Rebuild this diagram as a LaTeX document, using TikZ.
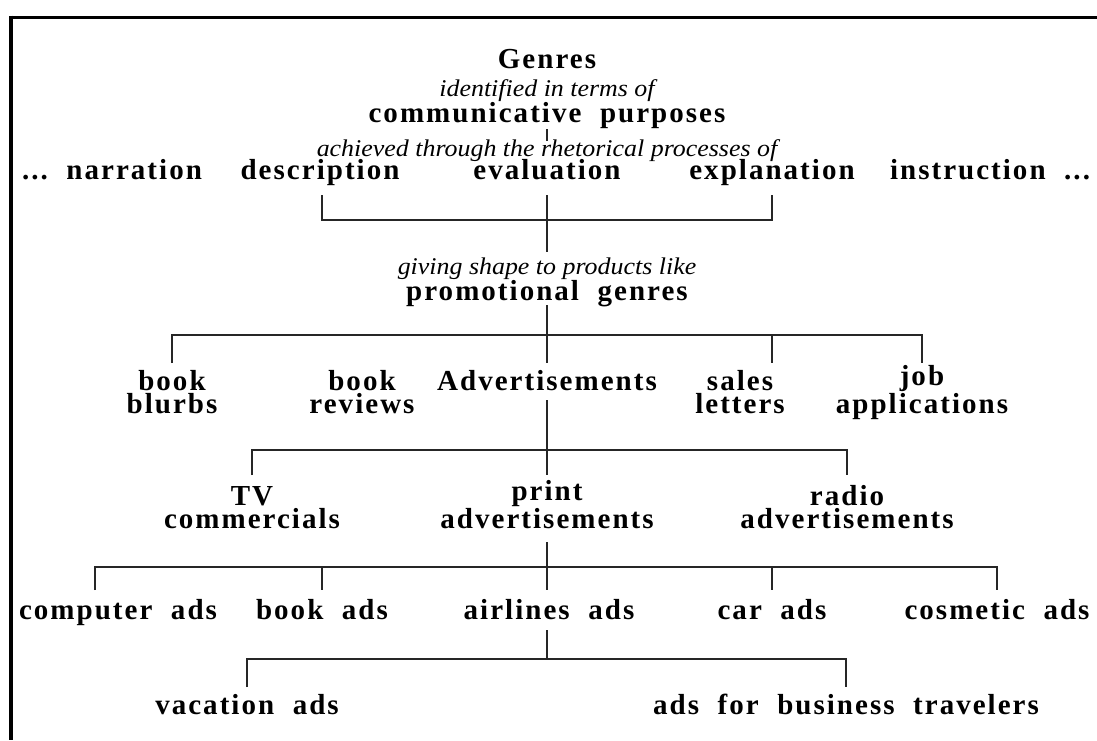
\documentclass[tikz,border=0pt]{standalone}
\usepackage{fontspec}
\setmainfont{Liberation Serif}
\newfontfamily\spacedserif[LetterSpace=7]{Liberation Serif}
\newfontfamily\glossserif[FakeStretch=1.08]{Liberation Serif}
\begin{document}
\begin{tikzpicture}[x=1pt,y=-1pt,
  term/.style={font=\spacedserif\bfseries\fontsize{29}{23}\selectfont,
               inner sep=0pt, anchor=base, align=center},
  gloss/.style={font=\glossserif\itshape\fontsize{24}{26}\selectfont, inner sep=0pt, anchor=base},
  link/.style={line width=1.4pt, draw=black!85}]
\useasboundingbox (0,0) rectangle (1097,740);
\fill[white] (0,0) rectangle (1097,740);

% frame
\draw[line width=3pt] (9,17) -- (1097,17);
\draw[line width=4.5pt] (11,15.5) -- (11,740);

% top block
\node[term]  (genres)  at (547,68)  {Genres};
\node[gloss] (ident)   at (547,96)  {identified in terms of};
\node[term]  (purpose) at (547,122) {communicative\ \ purposes};
\node[gloss] (achieve) at (547,156) {achieved through the rhetorical processes of};

% rhetorical processes
\node[term] (narr)  at (112,179) {...\ \ narration};
\node[term] (desc)  at (320,179) {description};
\node[term] (eval)  at (547,179) {evaluation};
\node[term] (expl)  at (772,179) {explanation};
\node[term] (instr) at (990,179) {instruction\ \ ...};

\node[gloss] (giving) at (547,274) {giving shape to products like};
\node[term]  (promo)  at (547,300) {promotional\ \ genres};

% promotional genres (two-line labels: base is the lower line)
\node[term] (blurbs)  at (172,413) {book\\blurbs};
\node[term] (reviews) at (362,413) {book\\reviews};
\node[term] (adv)     at (547,390) {Advertisements};
\node[term] (sales)   at (740,413) {sales\\letters};
\node[term] (job)     at (922,413) {job\\applications};

% media
\node[term] (tv)    at (252,528) {TV\\commercials};
\node[term] (print) at (547,528) {print\\advertisements};
\node[term] (radio) at (847,528) {radio\\advertisements};

% print advertisements
\node[term] (comp)     at (118,619) {computer\ \ ads};
\node[term] (bookads)  at (322,619) {book\ \ ads};
\node[term] (airlines) at (549,619) {airlines\ \ ads};
\node[term] (car)      at (772,619) {car\ \ ads};
\node[term] (cosm)     at (997,619) {cosmetic\ \ ads};

% airline ads
\node[term] (vac)  at (247,714) {vacation\ \ ads};
\node[term] (biz)  at (846,714) {ads\ \ for\ \ business\ \ travelers};

% junctions
\coordinate (barA) at (547,220);
\coordinate (barB) at (547,335);
\coordinate (barC) at (547,450);
\coordinate (barD) at (547,567);
\coordinate (barE) at (547,659);

% connectors
\draw[link] (purpose |- 0,129) -- (achieve |- 0,141);

\draw[link] (322,195) |- (barA) -| (expl |- 0,195);
\draw[link] (eval |- 0,195) -- (giving |- 0,252);

\draw[link] (promo |- 0,305) -- (adv |- 0,363);
\draw[link] (blurbs |- 0,363) |- (barB) -| (job |- 0,363);
\draw[link] (barB -| 772,0) -- (772,363);

\draw[link] (adv |- 0,400) -- (print |- 0,475);
\draw[link] (tv |- 0,475) |- (barC) -| (radio |- 0,475);

\draw[link] (print |- 0,542) -- (547,590);
\draw[link] (95,590) |- (barD) -| (cosm |- 0,590);
\draw[link] (bookads |- barD) -- (bookads |- 0,590);
\draw[link] (car |- barD) -- (car |- 0,590);

\draw[link] (547,630) -- (barE);
\draw[link] (vac |- 0,687) |- (barE) -| (biz |- 0,687);
\end{tikzpicture}
\end{document}
